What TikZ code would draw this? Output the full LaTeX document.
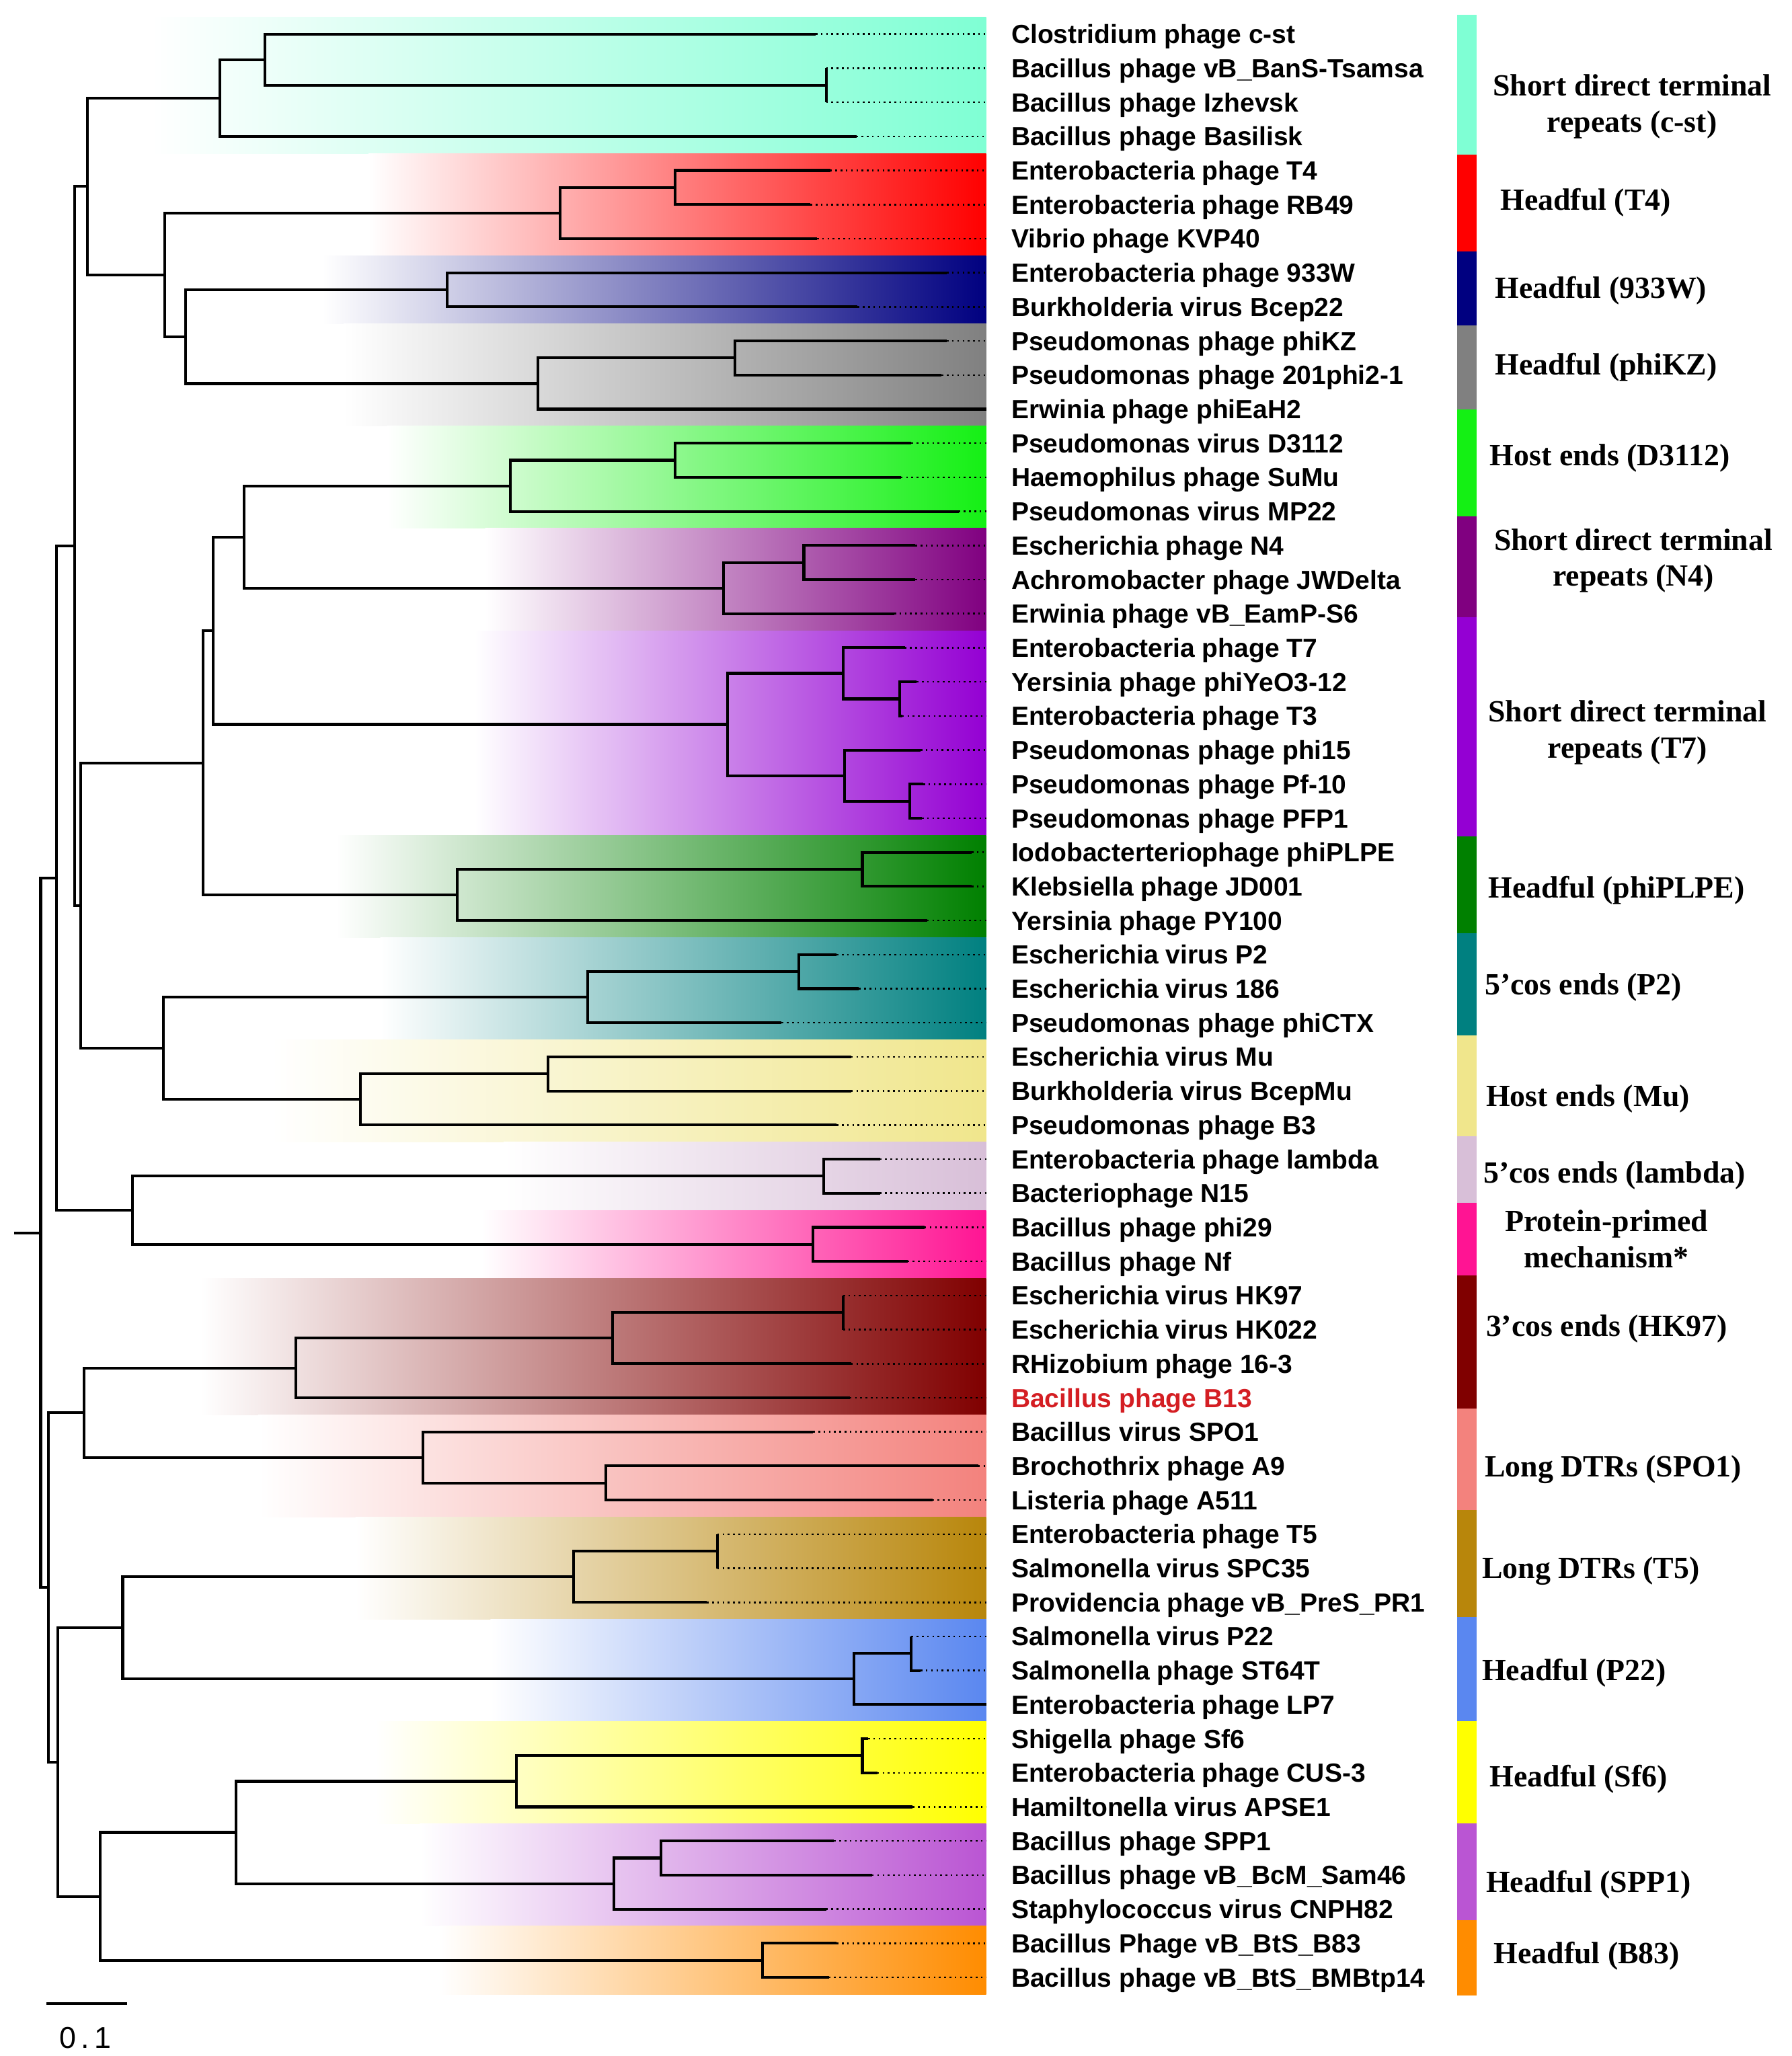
\documentclass[tikz,border=0pt]{standalone}
\usepackage{fontspec}
\setmainfont{Liberation Serif}
\newfontfamily\leaffont{Liberation Sans}
\usetikzlibrary{calc}
\tikzset{>=latex}

\definecolor{colcst}{RGB}{127,255,212}
\definecolor{colTfour}{RGB}{255,0,0}
\definecolor{colW}{RGB}{0,0,128}
\definecolor{colKZ}{RGB}{128,128,128}
\definecolor{colD}{RGB}{20,240,20}
\definecolor{colNfour}{RGB}{128,0,128}
\definecolor{colTseven}{RGB}{148,0,211}
\definecolor{colPL}{RGB}{0,128,0}
\definecolor{colPtwo}{RGB}{0,128,128}
\definecolor{colMu}{RGB}{240,230,140}
\definecolor{colLam}{RGB}{216,191,216}
\definecolor{colPhi}{RGB}{255,20,147}
\definecolor{colHK}{RGB}{128,0,0}
\definecolor{colSPO}{RGB}{243,130,125}
\definecolor{colTfive}{RGB}{184,134,11}
\definecolor{colPtt}{RGB}{90,135,240}
\definecolor{colSf}{RGB}{255,255,0}
\definecolor{colSPP}{RGB}{186,85,211}
\definecolor{colB}{RGB}{255,140,0}
\definecolor{bred}{RGB}{212,30,35}

\tikzset{
  branch/.style={line width=2.1pt,line join=miter},
  dotline/.style={line width=1.3pt,dash pattern=on 1.3pt off 2.7pt},
  leaf/.style={font=\leaffont\bfseries\fontsize{20}{24}\selectfont,inner sep=0pt,anchor=base west},
  group/.style={font=\bfseries\fontsize{23.5}{27.5}\selectfont,inner sep=0pt,anchor=base west},
  grouptwo/.style={font=\bfseries\fontsize{23.5}{27.5}\selectfont,inner sep=0pt,align=center}
}

\begin{document}
\begin{tikzpicture}[x=1pt,y=-1pt]
  \useasboundingbox (0,0) rectangle (1366,1568);

  % shaded clade bands
  \foreach \ya/\yb/\xs/\col in {13/117/115/colcst,117/195/281/colTfour,195/247/246/colW,
      247/325/262/colKZ,325/403/295/colD,403/481/370/colNfour,481/637/362/colTseven,
      637/715/256/colPL,715/793/290/colPtwo,793/871/207/colMu,871/923/384/colLam,
      923/975/367/colPhi,975/1079/153/colHK,1079/1157/197/colSPO,1157/1235/271/colTfive,
      1235/1313/374/colPtt,1313/1391/286/colSf,1391/1469/320/colSPP,1469/1521/335/colB}
    \shade[left color=white,right color=\col] (\xs,\ya) rectangle (752,\yb);

  % colour bar
  \foreach \ya/\yb/\col in {11.4/117.9/colcst,117.9/191.8/colTfour,191.8/248.4/colW,
      248.4/312.3/colKZ,312.3/394/colD,394/470.5/colNfour,470.5/638/colTseven,
      638/711.6/colPL,711.6/789.6/colPtwo,789.6/866.6/colMu,866.6/917.1/colLam,
      917.1/972.8/colPhi,972.8/1074/colHK,1074/1151.7/colSPO,1151.7/1233.3/colTfive,
      1233.3/1312.5/colPtt,1312.5/1390.7/colSf,1390.7/1464.5/colSPP,1464.5/1521.7/colB}
    \fill[fill=\col] (1111,\ya) rectangle (1126,\yb);

  \coordinate (dend) at (752,0);

  % leaves
  \foreach \i/\tx/\name in {1/622/Clostridium phage c-st,2/630/Bacillus phage vB\_BanS-Tsamsa,
      3/630/Bacillus phage Izhevsk,4/653/Bacillus phage Basilisk,5/633/Enterobacteria phage T4,
      6/618/Enterobacteria phage RB49,7/623/Vibrio phage KVP40,8/722/Enterobacteria phage 933W,
      9/654/Burkholderia virus Bcep22,10/722/Pseudomonas phage phiKZ,
      11/718/Pseudomonas phage 201phi2-1,12/752/Erwinia phage phiEaH2,
      13/695/Pseudomonas virus D3112,14/687/Haemophilus phage SuMu,15/731/Pseudomonas virus MP22,
      16/698/Escherichia phage N4,17/698/Achromobacter phage JWDelta,
      18/682/Erwinia phage vB\_EamP-S6,19/690/Enterobacteria phage T7,
      20/699/Yersinia phage phiYeO3-12,21/688/Enterobacteria phage T3,
      22/702/Pseudomonas phage phi15,23/704/Pseudomonas phage Pf-10,24/703/Pseudomonas phage PFP1,
      25/741/Iodobacterteriophage phiPLPE,26/741/Klebsiella phage JD001,
      27/707/Yersinia phage PY100,28/638/Escherichia virus P2,29/655/Escherichia virus 186,
      30/596/Pseudomonas phage phiCTX,31/649/Escherichia virus Mu,
      32/649/Burkholderia virus BcepMu,33/638/Pseudomonas phage B3,
      34/671/Enterobacteria phage lambda,35/671/Bacteriophage N15,36/705/Bacillus phage phi29,
      37/692/Bacillus phage Nf,38/643/Escherichia virus HK97,39/643/Escherichia virus HK022,
      40/649/RHizobium phage 16-3,42/620/Bacillus virus SPO1,43/746/Brochothrix phage A9,
      44/711/Listeria phage A511,45/547/Enterobacteria phage T5,46/547/Salmonella virus SPC35,
      47/539/Providencia phage vB\_PreS\_PR1,48/695/Salmonella virus P22,
      49/702/Salmonella phage ST64T,50/752/Enterobacteria phage LP7,51/662/Shigella phage Sf6,
      52/669/Enterobacteria phage CUS-3,53/696/Hamiltonella virus APSE1,
      54/636/Bacillus phage SPP1,55/665/Bacillus phage vB\_BcM\_Sam46,
      56/630/Staphylococcus virus CNPH82,57/638/Bacillus Phage vB\_BtS\_B83,
      58/632/Bacillus phage vB\_BtS\_BMBtp14}{
    \coordinate (t\i) at (\tx,26*\i);
    \node[leaf] (l\i) at (771,26*\i+7.2) {\name};
    \draw[dotline] (t\i) -- (t\i -| dend);
  }
  \coordinate (t41) at (648,1066);
  \node[leaf,text=bred] (l41) at (771,1073.2) {Bacillus phage B13};
  \draw[dotline] (t41) -- (t41 -| dend);

  % inner nodes
  \foreach \n/\x/\y in {n23/630/65,n123/202/45.5,ncst/167.5/74.75,n56/515/143,nT4/427/162.5,
      n933/341/221,n1011/560.6/273,nKZ/410/292.5,nF/141.4/256.75,nE/125.6/209.6,nC/66.5/142.2,
      n1314/514.8/351,nD31/389/370.5,n1617/613/429,nN4/551.7/448.5,nM/186.2/409.5,
      n2021/686/533,n1921/643/513.5,n2324/693.6/611,n2224/644/591.5,nT7/555/552.5,
      nL/162.6/481,n2526/657.6/663,nPL/348.8/682.5,nJ/155/581.75,n2829/609/741,
      nP2/448/760.5,n3132/417.7/819,nMu/275/838.5,nK/124.6/799.5,nI/61.6/690.6,
      nG/56.7/416.4,nlam/628/897,n29/619.7/949,nlp/101/923,nH/42.9/669.7,
      n3839/643/1001,n3840/467/1020.5,nHK/225.6/1043.25,n4344/462/1131,nSPO/322.7/1111.5,
      nB/64/1077.4,n4546/547/1183,nT5/437.4/1202.5,n4849/695/1261,nP22/651/1280.5,
      nTP/93.6/1241.5,n5152/657.6/1339,nSf/394/1358.5,n5455/504/1417,nSPP/468/1436.5,
      nSS/179.8/1397.5,nB83/581.3/1495,nSB/76.4/1446.25,nQ/44.3/1343.9,nP/37/1210.6,
      nR/31/940.2}
    \coordinate (\n) at (\x,\y);
  \coordinate (base) at (11,940.2);

  % branches
  \foreach \p/\a/\b in {n23/t2/t3,n123/t1/n23,ncst/n123/t4,n56/t5/t6,nT4/n56/t7,
      n933/t8/t9,n1011/t10/t11,nKZ/n1011/t12,nF/n933/nKZ,nE/nT4/nF,nC/ncst/nE,
      n1314/t13/t14,nD31/n1314/t15,n1617/t16/t17,nN4/n1617/t18,nM/nD31/nN4,
      n2021/t20/t21,n1921/t19/n2021,n2324/t23/t24,n2224/t22/n2324,nT7/n1921/n2224,
      nL/nM/nT7,n2526/t25/t26,nPL/n2526/t27,nJ/nL/nPL,n2829/t28/t29,nP2/n2829/t30,
      n3132/t31/t32,nMu/n3132/t33,nK/nP2/nMu,nI/nJ/nK,nG/nC/nI,nlam/t34/t35,
      n29/t36/t37,nlp/nlam/n29,nH/nG/nlp,n3839/t38/t39,n3840/n3839/t40,nHK/n3840/t41,
      n4344/t43/t44,nSPO/t42/n4344,nB/nHK/nSPO,n4546/t45/t46,nT5/n4546/t47,
      n4849/t48/t49,nP22/n4849/t50,nTP/nT5/nP22,n5152/t51/t52,nSf/n5152/t53,
      n5455/t54/t55,nSPP/n5455/t56,nSS/nSf/nSPP,nB83/t57/t58,nSB/nSS/nB83,
      nQ/nTP/nSB,nP/nB/nQ,nR/nH/nP}
    \draw[branch] (\a) -| (\p) |- (\b);
  \draw[branch] (base) -- (nR);

  % packaging classes
  \node[grouptwo] (gcst) at (1244.5,81.3) {Short direct terminal\\repeats (c-st)};
  \node[group] (gTfour) at (1144,160) {Headful (T4)};
  \node[group] (gW) at (1140,227.6) {Headful (933W)};
  \node[group] (gKZ) at (1140,286) {Headful (phiKZ)};
  \node[group] (gD) at (1136,355) {Host ends (D3112)};
  \node[grouptwo] (gNfour) at (1245.5,427.6) {Short direct terminal\\repeats (N4)};
  \node[grouptwo] (gTseven) at (1241,558.6) {Short direct terminal\\repeats (T7)};
  \node[group] (gPL) at (1135,684.9) {Headful (phiPLPE)};
  \node[group] (gPtwo) at (1132,758.5) {5’cos ends (P2)};
  \node[group] (gMu) at (1133,843.7) {Host ends (Mu)};
  \node[group] (gLam) at (1131,902.1) {5’cos ends (lambda)};
  \node[grouptwo] (gPhi) at (1225,944.9) {Protein-primed\\mechanism*};
  \node[group] (gHK) at (1133,1019) {3’cos ends (HK97)};
  \node[group] (gSPO) at (1132,1126.3) {Long DTRs (SPO1)};
  \node[group] (gTfive) at (1130,1203.8) {Long DTRs (T5)};
  \node[group] (gPtt) at (1130,1281.4) {Headful (P22)};
  \node[group] (gSf) at (1136,1362.8) {Headful (Sf6)};
  \node[group] (gSPP) at (1133,1443) {Headful (SPP1)};
  \node[group] (gB) at (1139,1497.7) {Headful (B83)};

  % scale bar
  \coordinate (sa) at (35.4,1528);
  \coordinate (sb) at (96.9,1528);
  \draw[line width=1.6pt] (sa) -- (sb);
  \node[font=\leaffont\fontsize{23}{27}\selectfont,inner sep=0pt] (scale) at (65,1554) {0\,.\,1};
\end{tikzpicture}
\end{document}
